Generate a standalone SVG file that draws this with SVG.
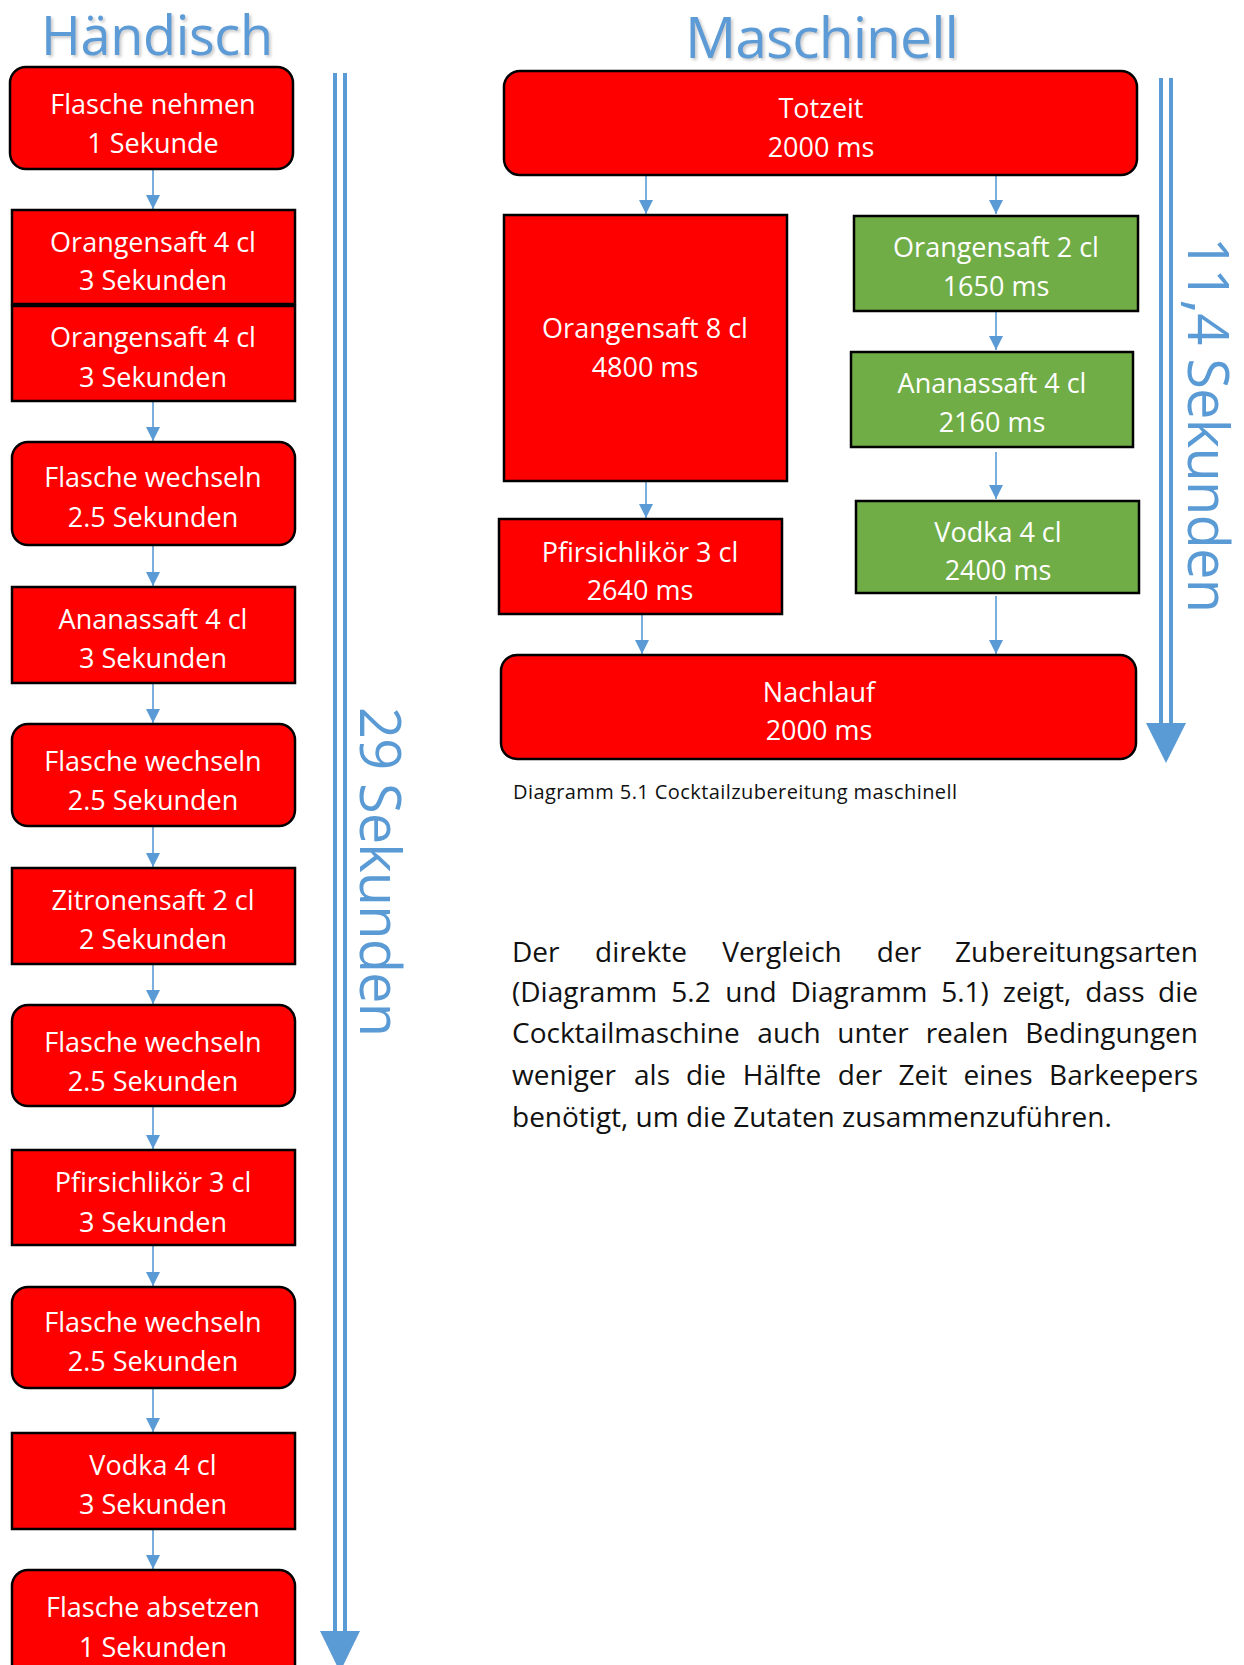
<svg xmlns="http://www.w3.org/2000/svg" width="1244" height="1665" viewBox="0 0 1244 1665">
<defs>
<style>
.box{fill:#FF0000;stroke:#000;stroke-width:2.5}
.green{fill:#70AD47;stroke:#000;stroke-width:2.5}
.t{font-family:"Open Sans","Noto Sans",sans-serif;font-size:27px;fill:#fff;text-anchor:middle}
.title{font-family:"Open Sans","Noto Sans",sans-serif;fill:#5B9BD5;text-anchor:middle}
.side{font-family:"Open Sans","Noto Sans",sans-serif;fill:#5B9BD5;font-size:56px}
.con{stroke:#5B9BD5;stroke-width:1.6;fill:none;marker-end:url(#ah)}
.dbl{stroke:#5B9BD5;stroke-width:4;fill:none}
.body{font-family:"Open Sans","Noto Sans",sans-serif;font-size:28px;fill:#111}
.cap{font-family:"Open Sans","Noto Sans",sans-serif;font-size:20px;fill:#111}
</style>
<marker id="ah" viewBox="0 0 10 10" refX="10" refY="5" markerWidth="14" markerHeight="14" markerUnits="userSpaceOnUse" orient="auto"><path d="M0,0 L10,5 L0,10 z" fill="#5B9BD5"/></marker>
<filter id="sh" x="-10%" y="-10%" width="130%" height="140%"><feDropShadow dx="2" dy="2" stdDeviation="1.5" flood-color="#888" flood-opacity="0.45"/></filter>
</defs>
<rect width="1244" height="1665" fill="#fff"/>

<text class="title" x="157" y="55" font-size="54" filter="url(#sh)" textLength="232">Händisch</text>
<text class="title" x="822" y="58" font-size="57" filter="url(#sh)" textLength="274">Maschinell</text>

<g id="connectors">
<line class="con" x1="153" y1="169" x2="153" y2="209"/>
<line class="con" x1="153" y1="401" x2="153" y2="441"/>
<line class="con" x1="153" y1="545" x2="153" y2="586"/>
<line class="con" x1="153" y1="683" x2="153" y2="723"/>
<line class="con" x1="153" y1="826" x2="153" y2="867"/>
<line class="con" x1="153" y1="964" x2="153" y2="1004"/>
<line class="con" x1="153" y1="1106" x2="153" y2="1149"/>
<line class="con" x1="153" y1="1245" x2="153" y2="1286"/>
<line class="con" x1="153" y1="1388" x2="153" y2="1432"/>
<line class="con" x1="153" y1="1529" x2="153" y2="1569"/>
<line class="con" x1="646" y1="175" x2="646" y2="214"/>
<line class="con" x1="996" y1="175" x2="996" y2="214"/>
<line class="con" x1="996" y1="311" x2="996" y2="350"/>
<line class="con" x1="996" y1="452" x2="996" y2="499"/>
<line class="con" x1="646" y1="481" x2="646" y2="518"/>
<line class="con" x1="642" y1="614" x2="642" y2="654"/>
<line class="con" x1="996" y1="596" x2="996" y2="654"/>
</g>

<g id="time-arrow-hand">
<line class="dbl" x1="335" y1="73" x2="335" y2="1636"/>
<line class="dbl" x1="345" y1="73" x2="345" y2="1636"/>
<polygon points="320,1631 360,1631 340,1672" fill="#5B9BD5"/>
<text class="side" transform="translate(360,707) rotate(90)" x="0" y="0" textLength="330">29 Sekunden</text>
</g>
<g id="time-arrow-machine">
<line class="dbl" x1="1161" y1="78" x2="1161" y2="727"/>
<line class="dbl" x1="1171" y1="78" x2="1171" y2="727"/>
<polygon points="1146,723 1186,723 1166,763" fill="#5B9BD5"/>
<text class="side" transform="translate(1188,237) rotate(90)" x="0" y="0" textLength="376">11,4 Sekunden</text>
</g>

<g id="h1"><rect class="box" x="10" y="67" width="283" height="102" rx="16"/><text class="t" x="153" y="114">Flasche nehmen</text><text class="t" x="153" y="153">1 Sekunde</text></g>
<g id="h2"><rect class="box" x="12" y="210" width="283" height="94"/><text class="t" x="153" y="252">Orangensaft 4 cl</text><text class="t" x="153" y="290">3 Sekunden</text></g>
<g id="h3"><rect class="box" x="12" y="306" width="283" height="95"/><text class="t" x="153" y="347">Orangensaft 4 cl</text><text class="t" x="153" y="387">3 Sekunden</text></g>
<g id="h4"><rect class="box" x="12" y="442" width="283" height="103" rx="16"/><text class="t" x="153" y="487">Flasche wechseln</text><text class="t" x="153" y="527">2.5 Sekunden</text></g>
<g id="h5"><rect class="box" x="12" y="587" width="283" height="96"/><text class="t" x="153" y="629">Ananassaft 4 cl</text><text class="t" x="153" y="668">3 Sekunden</text></g>
<g id="h6"><rect class="box" x="12" y="724" width="283" height="102" rx="16"/><text class="t" x="153" y="771">Flasche wechseln</text><text class="t" x="153" y="810">2.5 Sekunden</text></g>
<g id="h7"><rect class="box" x="12" y="868" width="283" height="96"/><text class="t" x="153" y="910">Zitronensaft 2 cl</text><text class="t" x="153" y="949">2 Sekunden</text></g>
<g id="h8"><rect class="box" x="12" y="1005" width="283" height="101" rx="16"/><text class="t" x="153" y="1052">Flasche wechseln</text><text class="t" x="153" y="1091">2.5 Sekunden</text></g>
<g id="h9"><rect class="box" x="12" y="1150" width="283" height="95"/><text class="t" x="153" y="1192">Pfirsichlikör 3 cl</text><text class="t" x="153" y="1232">3 Sekunden</text></g>
<g id="h10"><rect class="box" x="12" y="1287" width="283" height="101" rx="16"/><text class="t" x="153" y="1332">Flasche wechseln</text><text class="t" x="153" y="1371">2.5 Sekunden</text></g>
<g id="h11"><rect class="box" x="12" y="1433" width="283" height="96"/><text class="t" x="153" y="1475">Vodka 4 cl</text><text class="t" x="153" y="1514">3 Sekunden</text></g>
<g id="h12"><rect class="box" x="12" y="1570" width="283" height="120" rx="16"/><text class="t" x="153" y="1617">Flasche absetzen</text><text class="t" x="153" y="1657">1 Sekunden</text></g>

<g id="m1"><rect class="box" x="504" y="71" width="633" height="104" rx="16"/><text class="t" x="821" y="118">Totzeit</text><text class="t" x="821" y="157">2000 ms</text></g>
<g id="m2"><rect class="box" x="504" y="215" width="283" height="266"/><text class="t" x="645" y="338">Orangensaft 8 cl</text><text class="t" x="645" y="377">4800 ms</text></g>
<g id="m3"><rect class="green" x="854" y="216" width="284" height="95"/><text class="t" x="996" y="257">Orangensaft 2 cl</text><text class="t" x="996" y="296">1650 ms</text></g>
<g id="m4"><rect class="green" x="851" y="352" width="282" height="95"/><text class="t" x="992" y="393">Ananassaft 4 cl</text><text class="t" x="992" y="432">2160 ms</text></g>
<g id="m5"><rect class="green" x="856" y="501" width="283" height="92"/><text class="t" x="998" y="542">Vodka 4 cl</text><text class="t" x="998" y="580">2400 ms</text></g>
<g id="m6"><rect class="box" x="499" y="519" width="283" height="95"/><text class="t" x="640" y="562">Pfirsichlikör 3 cl</text><text class="t" x="640" y="600">2640 ms</text></g>
<g id="m7"><rect class="box" x="501" y="655" width="635" height="104" rx="16"/><text class="t" x="819" y="702">Nachlauf</text><text class="t" x="819" y="740">2000 ms</text></g>

<text class="cap" x="513" y="799" textLength="444">Diagramm 5.1 Cocktailzubereitung maschinell</text>

<g id="paragraph" class="body">
<text x="512" y="962">Der</text>
<text x="641" y="962" text-anchor="middle">direkte</text>
<text x="782" y="962" text-anchor="middle">Vergleich</text>
<text x="899" y="962" text-anchor="middle">der</text>
<text x="1198" y="962" text-anchor="end">Zubereitungsarten</text>

<text x="512" y="1002">(Diagramm</text>
<text x="691" y="1002" text-anchor="middle">5.2</text>
<text x="751" y="1002" text-anchor="middle">und</text>
<text x="859" y="1002" text-anchor="middle">Diagramm</text>
<text x="965" y="1002" text-anchor="middle">5.1)</text>
<text x="1037" y="1002" text-anchor="middle">zeigt,</text>
<text x="1115" y="1002" text-anchor="middle">dass</text>
<text x="1198" y="1002" text-anchor="end">die</text>

<text x="512" y="1043">Cocktailmaschine</text>
<text x="789" y="1043" text-anchor="middle">auch</text>
<text x="873" y="1043" text-anchor="middle">unter</text>
<text x="967" y="1043" text-anchor="middle">realen</text>
<text x="1198" y="1043" text-anchor="end">Bedingungen</text>

<text x="512" y="1085">weniger</text>
<text x="652" y="1085" text-anchor="middle">als</text>
<text x="706" y="1085" text-anchor="middle">die</text>
<text x="782" y="1085" text-anchor="middle">Hälfte</text>
<text x="860" y="1085" text-anchor="middle">der</text>
<text x="923" y="1085" text-anchor="middle">Zeit</text>
<text x="998" y="1085" text-anchor="middle">eines</text>
<text x="1198" y="1085" text-anchor="end">Barkeepers</text>

<text x="512" y="1127">benötigt, um die Zutaten zusammenzuführen.</text>
</g>
</svg>
